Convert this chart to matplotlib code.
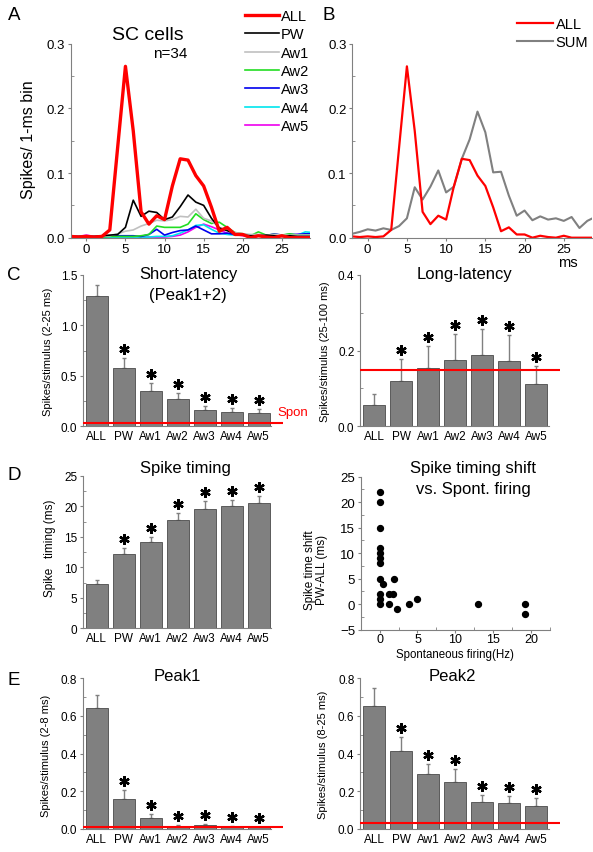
import matplotlib
matplotlib.use('Agg')
import matplotlib.pyplot as plt
import matplotlib.transforms as mtransforms
import numpy as np
from matplotlib.ticker import MultipleLocator

plt.rcParams['font.family'] = ['Liberation Sans', 'DejaVu Sans']

W, H = 593, 853

# PSTH, 1-ms bins (spikes per bin)
t_ms = list(range(-2, 30))
psth_all = [0.002, 0.001, 0.002, 0.001, 0.002, 0.012, 0.139, 0.265, 0.165, 0.040,
            0.021, 0.034, 0.028, 0.080, 0.122, 0.120, 0.096, 0.080, 0.047, 0.010,
            0.016, 0.005, 0.005, 0.000, 0.003, 0.001, 0.000, 0.003, 0.000, 0.000,
            0.000, 0.000]
psth_pw = [0.002, 0.002, 0.002, 0.002, 0.003, 0.004, 0.005, 0.016, 0.058, 0.033,
           0.041, 0.039, 0.028, 0.032, 0.048, 0.066, 0.055, 0.050, 0.030, 0.015,
           0.011, 0.006, 0.004, 0.003, 0.003, 0.004, 0.003, 0.002, 0.003, 0.002,
           0.002, 0.002]
psth_aw1 = [0.002, 0.002, 0.003, 0.002, 0.002, 0.003, 0.006, 0.010, 0.012, 0.018,
            0.022, 0.027, 0.026, 0.028, 0.033, 0.032, 0.044, 0.030, 0.026, 0.016,
            0.012, 0.008, 0.006, 0.005, 0.005, 0.004, 0.005, 0.004, 0.004, 0.004,
            0.004, 0.004]
psth_aw2 = [0.001, 0.001, 0.001, 0.001, 0.001, 0.002, 0.002, 0.002, 0.002, 0.003,
            0.005, 0.018, 0.016, 0.016, 0.016, 0.021, 0.037, 0.028, 0.022, 0.024,
            0.016, 0.008, 0.006, 0.003, 0.009, 0.004, 0.005, 0.004, 0.006, 0.004,
            0.004, 0.004]
psth_aw3 = [0.001, 0.001, 0.001, 0.001, 0.002, 0.003, 0.003, 0.003, 0.003, 0.002,
            0.005, 0.013, 0.004, 0.008, 0.011, 0.012, 0.018, 0.012, 0.006, 0.006,
            0.007, 0.005, 0.005, 0.004, 0.004, 0.003, 0.006, 0.004, 0.005, 0.005,
            0.006, 0.006]
psth_aw4 = [0.001, 0.001, 0.001, 0.001, 0.001, 0.001, 0.001, 0.001, 0.001, 0.001,
            0.001, 0.002, 0.002, 0.003, 0.007, 0.012, 0.019, 0.020, 0.013, 0.007,
            0.005, 0.004, 0.004, 0.003, 0.004, 0.003, 0.004, 0.004, 0.005, 0.004,
            0.009, 0.008]
psth_aw5 = [0.002, 0.002, 0.004, 0.002, 0.001, 0.001, 0.001, 0.001, 0.001, 0.001,
            0.001, 0.001, 0.001, 0.002, 0.004, 0.009, 0.016, 0.021, 0.017, 0.012,
            0.007, 0.005, 0.003, 0.003, 0.003, 0.002, 0.003, 0.003, 0.004, 0.005,
            0.006, 0.006]
psth_sum = [0.006, 0.009, 0.013, 0.011, 0.0145, 0.012, 0.018, 0.030, 0.078, 0.059,
            0.079, 0.104, 0.070, 0.079, 0.122, 0.152, 0.195, 0.163, 0.101, 0.102,
            0.065, 0.034, 0.042, 0.027, 0.033, 0.028, 0.030, 0.026, 0.032, 0.015,
            0.026, 0.032]

cats = ['ALL', 'PW', 'Aw1', 'Aw2', 'Aw3', 'Aw4', 'Aw5']
signif = [False, True, True, True, True, True, True]

# bar means and mean+SE
short_mean = [1.29, 0.575, 0.35, 0.268, 0.159, 0.142, 0.129]
short_top = [1.40, 0.674, 0.426, 0.33, 0.201, 0.184, 0.168]
short_spon = 0.036
long_mean = [0.056, 0.119, 0.153, 0.175, 0.188, 0.172, 0.112]
long_top = [0.086, 0.178, 0.211, 0.243, 0.257, 0.241, 0.159]
long_spon = 0.150
timing_mean = [7.28, 12.15, 14.1, 17.8, 19.6, 20.05, 20.57]
timing_top = [7.93, 13.2, 15.05, 19.0, 20.85, 21.07, 21.67]
peak1_mean = [0.64, 0.159, 0.057, 0.016, 0.020, 0.012, 0.010]
peak1_top = [0.711, 0.207, 0.080, 0.021, 0.024, 0.014, 0.012]
peak1_spon = 0.008
peak2_mean = [0.651, 0.412, 0.29, 0.251, 0.142, 0.137, 0.124]
peak2_top = [0.748, 0.487, 0.347, 0.317, 0.180, 0.175, 0.163]
peak2_spon = 0.030

# spike timing shift vs spontaneous firing
spont_hz = [0, 0, 0, 0, 0, 0, 0, 0, 0, 0, 0, 0.5, 1.3, 1.7, 1.9, 1.3, 2.3, 3.9, 4.9,
            13.0, 19.2, 19.2]
shift_ms = [22, 20, 15, 11, 10, 9, 8, 5, 2, 1, 0, 4, 2, 2, 5, 0, -1, 0, 1, 0, 0, -2]

GRAY = '#808080'

fig = plt.figure(figsize=(W / 100, H / 100), dpi=100)


def px_axes(l, r, t, b):
    return fig.add_axes([l / W, 1 - b / H, (r - l) / W, (b - t) / H])


def fig_text(x, y, s, **kw):
    fig.text(x / W, 1 - y / H, s, **kw)


def style(ax, fs=8.5):
    for side in ('top', 'right'):
        ax.spines[side].set_visible(False)
    for side in ('left', 'bottom'):
        ax.spines[side].set_color(GRAY)
        ax.spines[side].set_linewidth(0.8)
    ax.tick_params(which='major', direction='out', length=2.5, width=0.8,
                   color=GRAY, labelsize=fs, pad=1.5)
    ax.tick_params(which='minor', direction='in', length=2, width=0.6, color=GRAY)


def ylabel_at(ax, s, x, y, fs, **kw):
    ax.set_ylabel(s, fontsize=fs, va='center', **kw)
    bb = ax.get_position()
    ax.yaxis.set_label_coords((x / W - bb.x0) / bb.width,
                              ((1 - y / H) - bb.y0) / bb.height)


def bar_panel(ax, means, tops, ymax, major, spon=None):
    x = np.arange(len(cats))
    means = np.array(means)
    tops = np.array(tops)
    ax.bar(x, means, width=0.8, color=GRAY, edgecolor='#4a4a4a', linewidth=0.6,
           zorder=2)
    ax.errorbar(x, means, yerr=[np.zeros(len(x)), tops - means], fmt='none',
                ecolor=GRAY, elinewidth=1, capsize=1.5, capthick=1, zorder=1)
    # significance asterisks just above the error bars
    star_tr = mtransforms.offset_copy(ax.transData, fig=fig, x=0, y=9, units='dots')
    sx = [xi for xi, s in zip(x, signif) if s]
    sy = [ti for ti, s in zip(tops, signif) if s]
    ax.plot(sx, sy, ls='none', marker=(6, 2, 0), ms=7.5, mew=1.7, color='black',
            transform=star_tr, clip_on=False, zorder=4)
    ax.set_xlim(-0.52, 6.47)
    ax.set_ylim(0, ymax)
    ax.set_xticks(x, cats)
    ax.yaxis.set_major_locator(MultipleLocator(major))
    ax.yaxis.set_minor_locator(MultipleLocator(major / 2))
    style(ax)
    ax.tick_params(axis='x', length=0, pad=3)
    if spon is not None:
        ax.hlines(spon, -0.52, 6.9, color='red', lw=1.5, clip_on=False, zorder=3)


# A: PSTH per stimulus
axA = px_axes(70.7, 310, 44.7, 238.7)
series = [('ALL', psth_all, 'red', 2.4), ('PW', psth_pw, 'black', 1.2),
          ('Aw1', psth_aw1, '#c0c0c0', 1.2), ('Aw2', psth_aw2, '#22dd22', 1.2),
          ('Aw3', psth_aw3, '#0000ee', 1.2), ('Aw4', psth_aw4, '#00e5ee', 1.2),
          ('Aw5', psth_aw5, '#ee00ee', 1.2)]
handles = []
for name, vals, col, lw in reversed(series):
    h, = axA.plot(t_ms, vals, color=col, lw=lw, label=name)
    handles.append(h)
handles = handles[::-1]
axA.set_xlim(-2, 28.6)
axA.set_ylim(0, 0.3)
axA.xaxis.set_major_locator(MultipleLocator(5))
axA.yaxis.set_major_locator(MultipleLocator(0.1))
axA.yaxis.set_minor_locator(MultipleLocator(0.05))
style(axA, fs=9.5)
ylabel_at(axA, 'Spikes/ 1-ms bin', 28, 140, 11.5)
fig.legend(handles=handles, loc='upper left', bbox_to_anchor=(245 / W, 1 - 10 / H),
           frameon=False, fontsize=10.5, handlelength=2.3, handletextpad=0.15,
           labelspacing=0.3, borderpad=0, borderaxespad=0)
fig_text(148, 36, 'SC cells', fontsize=14, ha='center', va='center')
fig_text(170, 54, 'n=34', fontsize=11, ha='center', va='center')

# B: ALL vs linear sum
axB = px_axes(352, 592, 44.7, 238.7)
hs, = axB.plot(t_ms, psth_sum, color=GRAY, lw=1.5, label='SUM')
ha, = axB.plot(t_ms, psth_all, color='red', lw=1.6, label='ALL')
axB.set_xlim(-2, 28.6)
axB.set_ylim(0, 0.3)
axB.xaxis.set_major_locator(MultipleLocator(5))
axB.yaxis.set_major_locator(MultipleLocator(0.1))
axB.yaxis.set_minor_locator(MultipleLocator(0.05))
style(axB, fs=9.5)
fig.legend(handles=[ha, hs], loc='upper left', bbox_to_anchor=(517 / W, 1 - 18 / H),
           frameon=False, fontsize=10.5, handlelength=2.5, handletextpad=0.15,
           labelspacing=0.3, borderpad=0, borderaxespad=0)
fig_text(568, 263, 'ms', fontsize=10.5, ha='center', va='center')

# C: short and long latency responses
axC1 = px_axes(82.7, 271.4, 276, 427.3)
bar_panel(axC1, short_mean, short_top, 1.5, 0.5, spon=short_spon)
ylabel_at(axC1, 'Spikes/stimulus (2-25 ms)', 48, 352, 8)
fig_text(188, 274, 'Short-latency', fontsize=12, ha='center', va='center')
fig_text(188, 296, '(Peak1+2)', fontsize=12, ha='center', va='center')
fig_text(277, 413, 'Spon', fontsize=9.5, color='red', ha='left', va='center')

axC2 = px_axes(360, 548.7, 276, 427.3)
bar_panel(axC2, long_mean, long_top, 0.4, 0.2, spon=long_spon)
ylabel_at(axC2, 'Spikes/stimulus (25-100 ms)', 325, 352, 8)
fig_text(465, 274, 'Long-latency', fontsize=12, ha='center', va='center')

# D: spike timing
axD1 = px_axes(82.7, 271.4, 477, 629.3)
bar_panel(axD1, timing_mean, timing_top, 25, 5)
ylabel_at(axD1, 'Spike   timing (ms)', 50, 548, 8.5)
fig_text(185, 469, 'Spike timing', fontsize=12, ha='center', va='center')

axD2 = px_axes(360.7, 550, 477.5, 630.7)
axD2.scatter(spont_hz, shift_ms, s=18, color='black', zorder=3)
axD2.set_xlim(-2.5, 22.5)
axD2.set_ylim(-5, 25)
axD2.xaxis.set_major_locator(MultipleLocator(5))
axD2.yaxis.set_major_locator(MultipleLocator(5))
axD2.xaxis.set_minor_locator(MultipleLocator(2.5))
axD2.yaxis.set_minor_locator(MultipleLocator(2.5))
style(axD2, fs=9.5)
axD2.tick_params(axis='x', which='major', labelsize=9, pad=0)
ylabel_at(axD2, 'Spike time shift\nPW-ALL (ms)', 316, 570, 8.5, linespacing=1.1)
axD2.set_xlabel('Spontaneous firing(Hz)', fontsize=8.3, va='center')
bb = axD2.get_position()
axD2.xaxis.set_label_coords((455 / W - bb.x0) / bb.width,
                            ((1 - 655.5 / H) - bb.y0) / bb.height)
fig_text(473, 469, 'Spike timing shift', fontsize=12, ha='center', va='center')
fig_text(473, 490, 'vs. Spont. firing', fontsize=12, ha='center', va='center')

# E: peak1 and peak2
axE1 = px_axes(82.7, 271.4, 679.3, 830)
bar_panel(axE1, peak1_mean, peak1_top, 0.8, 0.2, spon=peak1_spon)
ylabel_at(axE1, 'Spikes/stimulus (2-8 ms)', 46, 756, 8)
fig_text(177, 677, 'Peak1', fontsize=12, ha='center', va='center')

axE2 = px_axes(360, 548.7, 679.3, 830)
bar_panel(axE2, peak2_mean, peak2_top, 0.8, 0.2, spon=peak2_spon)
ylabel_at(axE2, 'Spikes/stimulus (8-25 ms)', 323, 755, 8)
fig_text(452, 677, 'Peak2', fontsize=12, ha='center', va='center')

# panel letters
for letter, x, y in [('A', 14, 16), ('B', 329, 16), ('C', 14, 276),
                     ('D', 14, 476), ('E', 14, 681)]:
    fig_text(x, y, letter, fontsize=13.5, ha='center', va='center')

fig.savefig('out.png', dpi=100)
